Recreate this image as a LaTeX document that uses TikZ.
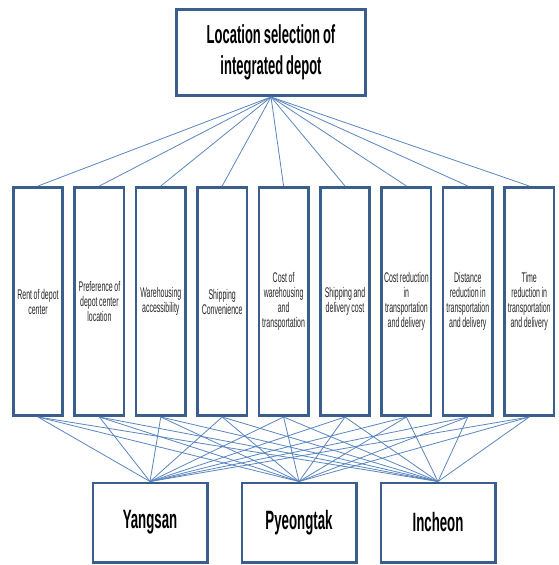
\documentclass[tikz,border=0pt]{standalone}
\usepackage{fontspec}
\setmainfont{Liberation Sans}[FakeStretch=0.5, WordSpace=0.8]
\usetikzlibrary{positioning}
\definecolor{boxblue}{HTML}{3B5F8C}
\definecolor{linkblue}{HTML}{5A86BF}
\tikzset{
	goalbox/.style={draw=boxblue, line width=2.6pt, fill=white, minimum width=189.4pt,
		minimum height=86.4pt, inner sep=0pt, align=center,
		font=\fontsize{26}{31}\selectfont\bfseries},
	critbox/.style={draw=boxblue, line width=2.6pt, fill=white, minimum width=49.4pt,
		minimum height=228.4pt, inner sep=0pt, align=center,
		font=\fontsize{14}{15}\selectfont, text=black!85},
	altbox/.style={draw=boxblue, line width=2.6pt, fill=white, minimum width=114.4pt,
		minimum height=79.4pt, inner sep=0pt, font=\fontsize{26.5}{28}\selectfont\bfseries},
	link/.style={draw=linkblue, line width=0.8pt}
}

\begin{document}
\begin{tikzpicture}[x=1pt, y=-1pt, node distance=9.4pt]
	\useasboundingbox (0,0) rectangle (558,565);
	% goal
	\node[goalbox] (goal) at (271,52.5) {Location selection of\\integrated depot};
	% criteria
	\node[critbox] (rent) at (38,301.5) {Rent of depot\\center};
	\node[critbox, right=of rent] (pref) {Preference of\\depot center\\location};
	\node[critbox, right=of pref] (access) {Warehousing\\accessibility};
	\node[critbox, right=of access] (shipconv) {Shipping\\Convenience};
	\node[critbox, right=of shipconv] (costwt) {Cost of\\warehousing\\and\\transportation};
	\node[critbox, right=of costwt] (shipcost) {Shipping and\\delivery cost};
	\node[critbox, right=of shipcost] (costred) {Cost reduction\\in\\transportation\\and delivery};
	\node[critbox, right=of costred] (distred) {Distance\\reduction in\\transportation\\and delivery};
	\node[critbox, right=of distred] (timered) {Time\\reduction in\\transportation\\and delivery};
	% alternatives
	\node[altbox] (pyeongtak) at (299,522.5) {Pyeongtak};
	\node[altbox, left=32pt of pyeongtak] (yangsan) {Yangsan};
	\node[altbox, right=22pt of pyeongtak] (incheon) {Incheon};
	% links
	\foreach \c in {rent,pref,access,shipconv,costwt,shipcost,costred,distred,timered} {
		\draw[link] (goal.south) -- (\c.north);
		\foreach \a in {yangsan,pyeongtak,incheon}
			\draw[link] (\c.south) -- (\a.north);
	}
\end{tikzpicture}
\end{document}
